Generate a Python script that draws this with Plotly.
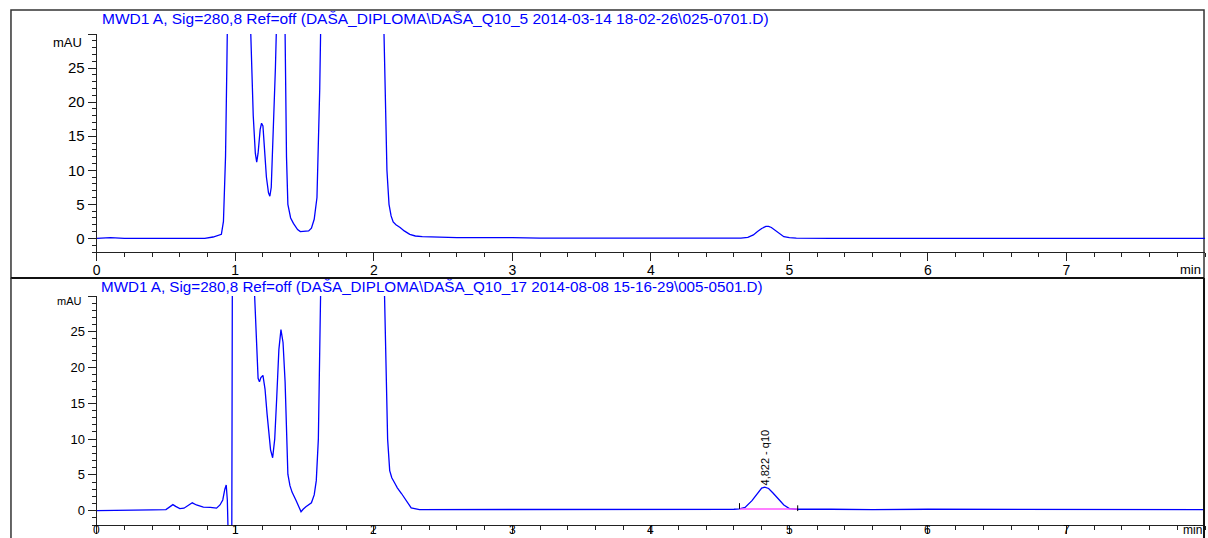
import plotly.graph_objects as go

W, H = 1208, 538

# ---------------- data ----------------
title_top = "MWD1 A, Sig=280,8 Ref=off (DAŠA_DIPLOMA\\DAŠA_Q10_5 2014-03-14 18-02-26\\025-0701.D)"
title_bot = "MWD1 A, Sig=280,8 Ref=off (DAŠA_DIPLOMA\\DAŠA_Q10_17 2014-08-08 15-16-29\\005-0501.D)"

time_top = [0.00, 0.05, 0.10, 0.20, 0.30, 0.40, 0.50, 0.55, 0.60, 0.70, 0.78, 0.84, 0.88, 0.90,
            0.915, 0.93, 0.94, 0.95, 0.97, 1.00, 1.05, 1.09, 1.11, 1.13, 1.145, 1.155, 1.165,
            1.18, 1.19, 1.20, 1.21, 1.225, 1.24, 1.25, 1.26, 1.275, 1.29, 1.30, 1.32, 1.34,
            1.36, 1.37, 1.38, 1.40, 1.42, 1.45, 1.47, 1.50, 1.53, 1.55, 1.57, 1.59, 1.61, 1.62,
            1.65, 1.80, 2.00, 2.06, 2.08, 2.095, 2.11, 2.125, 2.14, 2.16, 2.19, 2.22, 2.26,
            2.30, 2.35, 2.45, 2.60, 2.80, 2.90, 3.00, 3.20, 3.50, 3.80, 4.00, 4.20, 4.50, 4.65,
            4.70, 4.74, 4.77, 4.80, 4.83, 4.85, 4.87, 4.90, 4.93, 4.96, 5.00, 5.05, 5.30, 5.60,
            6.00, 6.50, 7.00, 7.10, 7.20, 7.50, 8.00]
signal_top = [0.0, 0.1, 0.1, 0.0, 0.0, 0.0, 0.05, 0.1, 0.0, 0.0, 0.0, 0.2, 0.4, 0.6,
              2.5, 12, 26, 45, 90, 120, 90, 45, 30, 18, 12.5, 11.2, 12.5,
              16, 16.9, 16.5, 13.5, 9, 6.7, 6.2, 7.5, 15, 25, 33, 60, 50,
              30, 12, 5, 3.0, 2.2, 1.3, 1.0, 1.0, 1.1, 1.5, 2.8, 6, 22, 35,
              80, 150, 100, 40, 22, 10, 5, 3.3, 2.4, 2.0, 1.6, 1.1, 0.6,
              0.35, 0.25, 0.15, 0.1, 0.1, 0.15, 0.1, 0.05, 0.05, 0.0, 0.0, 0.0, 0.0, 0.05,
              0.15, 0.5, 1.0, 1.45, 1.75, 1.75, 1.6, 1.15, 0.6, 0.25, 0.1, 0.05, 0.0, 0.0,
              0.0, 0.0, 0.0, 0.1, 0.0, 0.0, 0.0]

time_bot = [0.00, 0.10, 0.20, 0.30, 0.40, 0.50, 0.53, 0.55, 0.57, 0.60, 0.63, 0.66, 0.69, 0.72,
            0.77, 0.82, 0.865, 0.89, 0.91, 0.925, 0.935, 0.943, 0.950, 0.955, 0.970, 0.975,
            0.98, 0.99, 1.02, 1.08, 1.12, 1.14, 1.155, 1.165, 1.175, 1.185, 1.20, 1.215, 1.23,
            1.24, 1.255, 1.27, 1.285, 1.30, 1.315, 1.33, 1.345, 1.36, 1.37, 1.38, 1.395, 1.41,
            1.44, 1.46, 1.475, 1.49, 1.51, 1.55, 1.57, 1.585, 1.60, 1.62, 1.65, 1.80, 2.00,
            2.07, 2.09, 2.10, 2.115, 2.13, 2.15, 2.17, 2.20, 2.24, 2.27, 2.33, 2.45, 2.60,
            2.80, 3.00, 3.30, 3.60, 3.90, 4.10, 4.30, 4.60, 4.64, 4.68, 4.73, 4.77, 4.80,
            4.822, 4.85, 4.88, 4.92, 4.96, 5.00, 5.05, 5.30, 5.60, 6.00, 6.20, 6.50, 6.90,
            7.20, 7.60, 8.00]
signal_bot = [0.0, 0.0, 0.0, 0.05, 0.1, 0.15, 0.5, 0.85, 0.6, 0.3, 0.35, 0.75, 1.1, 0.8,
              0.5, 0.45, 0.35, 0.8, 1.5, 3.0, 3.6, 1.5, -5, -8, -8, -5,
              40, 120, 150, 80, 40, 30, 22, 18.5, 18.0, 18.6, 18.9, 17, 13.5,
              11.1, 8.5, 7.4, 10, 16, 22.5, 25.3, 23.5, 18, 10, 5.1, 3.5, 2.6,
              1.4, 0.5, -0.15, 0.2, 0.55, 1.1, 2.2, 4.2, 10, 35, 80, 150, 100,
              40, 20, 10, 5.6, 4.6, 3.9, 3.2, 2.4, 1.2, 0.4, 0.15, 0.15, 0.2,
              0.2, 0.2, 0.2, 0.2, 0.15, 0.1, 0.15, 0.2, 0.25, 0.45, 1.4, 2.5, 3.15,
              3.3, 3.1, 2.5, 1.65, 0.8, 0.3, 0.2, 0.2, 0.15, 0.2, 0.2, 0.15, 0.15,
              0.15, 0.15, 0.15]

peak_time = 4.822
peak_label = "4,822 - q10"
peak_label_center = 7.4
integ_start = 4.64
integ_end = 5.06
integ_level = [0.25, 0.25]

x_ticks = [0, 1, 2, 3, 4, 5, 6, 7]
x_ticktext = ["0", "1", "2", "3", "4", "5", "6", "7"]
y_ticks = [0, 5, 10, 15, 20, 25, 30]
y_ticktext = ["0", "5", "10", "15", "20", "25", ""]

# ---------------- layout geometry (pixels) ----------------
def px_x(p):
    return p / W

def px_y(p):
    return 1 - p / H

x_dom = [px_x(93), px_x(1205)]
y1_dom = [px_y(252), px_y(34)]
y2_dom = [px_y(525), px_y(296)]

BLUE = "#0000FF"
AX = "#222222"
FONT = "Liberation Sans, Arial, sans-serif"

fig = go.Figure()
fig.add_trace(go.Scatter(x=time_top, y=signal_top, mode="lines", xaxis="x", yaxis="y",
                         line=dict(color=BLUE, width=1.3), showlegend=False, hoverinfo="skip"))
fig.add_trace(go.Scatter(x=time_bot, y=signal_bot, mode="lines", xaxis="x2", yaxis="y2",
                         line=dict(color=BLUE, width=1.3), showlegend=False, hoverinfo="skip"))
# integration baseline
fig.add_trace(go.Scatter(x=[integ_start, integ_end], y=integ_level, mode="lines", xaxis="x2", yaxis="y2",
                         line=dict(color="#FF55FF", width=1.5), showlegend=False, hoverinfo="skip"))
# integration start / end tick marks
fig.add_trace(go.Scatter(x=[integ_start, integ_start, None, integ_end, integ_end],
                         y=[integ_level[0], integ_level[0] + 0.8, None, integ_level[1] - 0.3, integ_level[1] + 0.5],
                         mode="lines", xaxis="x2", yaxis="y2",
                         line=dict(color="black", width=1), showlegend=False, hoverinfo="skip"))

def xaxis_cfg(anchor, fs, labels):
    return dict(domain=x_dom, range=[0, 8], anchor=anchor, showgrid=False, zeroline=False,
                showline=True, linecolor=AX, linewidth=1, showticklabels=labels,
                tickmode="array", tickvals=x_ticks, ticks="outside", ticklen=8, tickwidth=1,
                tickcolor=AX, tickfont=dict(family=FONT, size=fs, color="black"),
                ticklabelstandoff=-3,
                minor=dict(dtick=0.2, ticks="outside", ticklen=4, tickwidth=1, tickcolor=AX, showgrid=False),
                fixedrange=True)

def yaxis_cfg(anchor, dom, fs):
    return dict(domain=dom, range=[-2, 30], anchor=anchor, showgrid=False, zeroline=False,
                showline=True, linecolor=AX, linewidth=1,
                tickmode="array", tickvals=y_ticks, ticktext=y_ticktext, ticks="outside", ticklen=8,
                tickwidth=1, tickcolor=AX, tickfont=dict(family=FONT, size=fs, color="black"),
                minor=dict(dtick=1, ticks="outside", ticklen=4, tickwidth=1, tickcolor=AX, showgrid=False),
                fixedrange=True)

fig.update_layout(
    width=W, height=H, margin=dict(l=0, r=0, t=0, b=0), autosize=False,
    paper_bgcolor="white", plot_bgcolor="white",
    xaxis=xaxis_cfg("y", 14, True),
    yaxis=yaxis_cfg("x", y1_dom, 15),
    xaxis2=xaxis_cfg("y2", 14, False),
    yaxis2=yaxis_cfg("x2", y2_dom, 13),
)

annotations = [
    dict(text=title_top, x=px_x(96), y=px_y(18), xref="paper", yref="paper", xanchor="left",
         yanchor="middle", showarrow=False, font=dict(family=FONT, size=15.5, color=BLUE)),
    dict(text=title_bot, x=px_x(96), y=px_y(286), xref="paper", yref="paper", xanchor="left",
         yanchor="middle", showarrow=False, borderpad=0, font=dict(family=FONT, size=15.2, color=BLUE)),
    dict(text="mAU", x=px_x(80), y=px_y(43), xref="paper", yref="paper", xanchor="right",
         yanchor="middle", showarrow=False, font=dict(family=FONT, size=13, color="black")),
    dict(text="mAU", x=px_x(80), y=px_y(301), xref="paper", yref="paper", xanchor="right",
         yanchor="middle", showarrow=False, font=dict(family=FONT, size=11, color="black")),
    dict(text="min", x=px_x(1203), y=px_y(269), xref="paper", yref="paper", xanchor="right",
         yanchor="middle", showarrow=False, font=dict(family=FONT, size=13, color="black")),
    # bottom-axis labels: kept inside the page (they are cut by the image edge in the reference)
    dict(text="min", x=px_x(1203), y=0, xref="paper", yref="paper", xanchor="right",
         yanchor="bottom", showarrow=False, borderpad=0, font=dict(family=FONT, size=12, color="black")),
    dict(text=peak_label, x=peak_time, y=peak_label_center, xref="x2", yref="y2", xanchor="center",
         yanchor="middle", textangle=-90, showarrow=False,
         font=dict(family=FONT, size=11, color="black")),
]
for tv, tt in zip(x_ticks, x_ticktext):
    annotations.append(dict(text=tt, x=tv, y=0, xref="x2", yref="paper", xanchor="center",
                            yanchor="bottom", showarrow=False, borderpad=0,
                            font=dict(family=FONT, size=12, color="black")))
fig.update_layout(annotations=annotations)

shapes = [
    # top panel frame
    dict(type="rect", xref="paper", yref="paper", x0=px_x(7), x1=px_x(1204), y0=px_y(278), y1=px_y(10),
         line=dict(color="#333333", width=1.5), layer="below"),
    # separator
    dict(type="line", xref="paper", yref="paper", x0=px_x(7), x1=px_x(1204), y0=px_y(278), y1=px_y(278),
         line=dict(color="#111111", width=2)),
    # bottom panel sides
    dict(type="line", xref="paper", yref="paper", x0=px_x(7), x1=px_x(7), y0=px_y(278), y1=0,
         line=dict(color="#333333", width=1.5)),
    dict(type="line", xref="paper", yref="paper", x0=px_x(1204), x1=px_x(1204), y0=px_y(278), y1=0,
         line=dict(color="#111111", width=2)),
]
fig.update_layout(shapes=shapes)

fig.write_html("out.html")
